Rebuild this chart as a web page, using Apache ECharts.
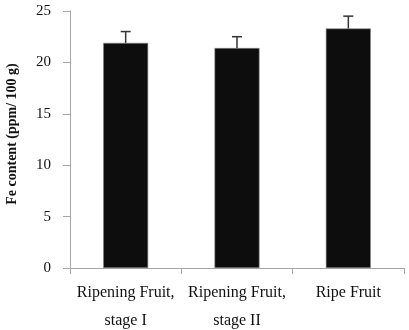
<!DOCTYPE html>
<html><head><meta charset="utf-8">
<script src="https://cdn.jsdelivr.net/npm/echarts@6/dist/echarts.min.js"></script>
<style>html,body{margin:0;padding:0;background:#fff}#c{width:409px;height:330px}</style>
</head><body><div id="c"></div>
<script>
const categories = ["Ripening Fruit,\nstage I", "Ripening Fruit,\nstage II", "Ripe Fruit"];
const values = [21.9, 21.4, 23.3];
const errors = [1.1, 1.1, 1.2];
const yTicks = [0, 5, 10, 15, 20, 25];
const yTitle = 'Fe content (ppm/ 100 g)';

const font = "'Liberation Serif', serif";
const chart = echarts.init(document.getElementById('c'));
chart.setOption({
  animation: false,
  grid: {left: 70, right: 5, top: 11, bottom: 62, containLabel: false, outerBoundsMode: 'none'},
  graphic: [{type: 'text', x: 12, y: 134, rotation: Math.PI / 2,
    style: {text: yTitle, font: "bold 14px 'Liberation Serif', serif", fill: '#111',
      textAlign: 'center', textVerticalAlign: 'middle'}}],
  xAxis: {
    type: 'category', data: categories,
    axisLine: {lineStyle: {color: '#a6a6a6', width: 1}},
    axisTick: {show: true, length: 6, lineStyle: {color: '#a6a6a6'}},
    axisLabel: {interval: 0, color: '#111', fontFamily: font, fontSize: 16, lineHeight: 28, margin: 11}
  },
  yAxis: {
    type: 'value', min: 0, max: 25, interval: 5,
    splitLine: {show: false},
    axisLine: {show: true, lineStyle: {color: '#a6a6a6'}},
    axisTick: {show: true, length: 7, lineStyle: {color: '#a6a6a6'}},
    axisLabel: {color: '#111', fontFamily: font, fontSize: 15, margin: 19,
      formatter: v => yTicks.includes(v) ? String(v) : ''}
  },
  series: [
    {type: 'bar', data: values, barWidth: 45,
     itemStyle: {color: '#0d0d0d', borderColor: '#8a8a8a', borderWidth: 0.6}},
    {type: 'custom', data: values.map((v, i) => [i, v, v + errors[i]]), z: 5,
     renderItem: (params, api) => {
       const base = api.coord([api.value(0), api.value(1)]);
       const top = api.coord([api.value(0), api.value(2)]);
       const hw = 5;
       return {type: 'group', children: [
         {type: 'line', shape: {x1: base[0], y1: base[1], x2: top[0], y2: top[1]}, style: {stroke: '#333', lineWidth: 1.5}},
         {type: 'line', shape: {x1: top[0]-hw, y1: top[1], x2: top[0]+hw, y2: top[1]}, style: {stroke: '#333', lineWidth: 1.5}}
       ]};
     }}
  ]
});
</script></body></html>
